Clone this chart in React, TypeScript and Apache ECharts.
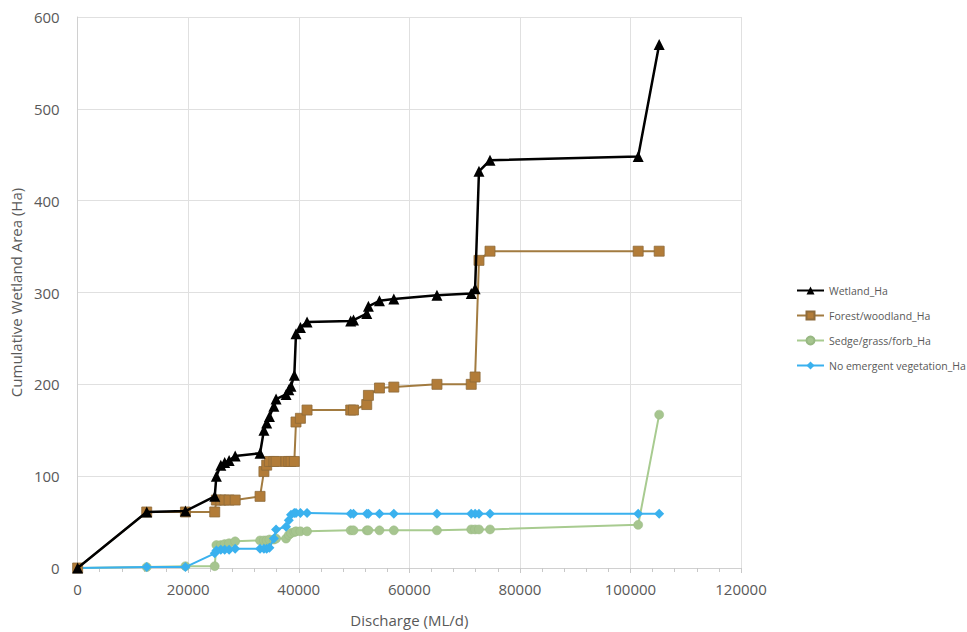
import React, { useEffect, useRef } from "react";
import * as echarts from "echarts";

const discharge = [
  0, 12500, 19500, 24800, 25100, 25900, 26600, 27400, 28500, 33000, 33700, 34200, 34700,
  35500, 35900, 37700, 38200, 38600, 39200, 39500, 40300, 41500, 49400, 49900, 52300,
  52600, 54600, 57200, 65000, 71200, 71900, 72600, 74600, 101400, 105200,
];
const wetland = [
  0, 61, 62, 78, 100, 112, 115, 117, 122, 125, 150, 158, 165, 176, 184, 189, 194, 198,
  210, 255, 262, 268, 269, 270, 277, 285, 291, 293, 297, 299, 304, 432, 444, 448, 570,
];
const forest = [
  0, 61, 61, 61, 74, 74, 74, 74, 74, 78, 105, 112, 116, 116, 116, 116, 116, 116, 116,
  159, 163, 172, 172, 172, 178, 188, 196, 197, 200, 200, 208, 335, 345, 345, 345,
];
const sedge = [
  0, 1, 2, 2, 25, 25, 26, 27, 29, 30, 30, 30, 31, 31, 32, 32, 36, 38, 39, 40, 40, 40, 41,
  41, 41, 41, 41, 41, 41, 42, 42, 42, 42, 47, 167,
];
const noEmergent = [
  0, 1, 1, 16, 19, 20, 20, 20, 21, 21, 21, 21, 22, 32, 42, 45, 52, 58, 60, 60, 60, 60, 59,
  59, 59, 59, 59, 59, 59, 59, 59, 59, 59, 59, 59,
];
const seriesNames = [
  "Wetland_Ha",
  "Forest/woodland_Ha",
  "Sedge/grass/forb_Ha",
  "No emergent vegetation_Ha",
];
const xTicks = { min: 0, max: 120000, interval: 20000 };
const yTicks = { min: 0, max: 600, interval: 100 };

const pair = (ys: number[]) => discharge.map((x, i) => [x, ys[i]]);

export default function App() {
  const ref = useRef<HTMLDivElement>(null);
  useEffect(() => {
    if (!ref.current) return;
    const chart = echarts.init(ref.current, undefined, { renderer: "svg" });
    const font = "'Open Sans', 'Noto Sans', sans-serif";
    const gray = "#595959";
    chart.setOption({
      animation: false,
      backgroundColor: "#ffffff",
      textStyle: { fontFamily: font },
      grid: { left: 77, right: 226, top: 17, bottom: 64, containLabel: false },
      legend: {
        orient: "vertical",
        left: 791,
        top: 280,
        itemWidth: 27,
        itemHeight: 10,
        itemGap: 14,
        textStyle: { fontSize: 10.5, color: gray, fontFamily: font },
        data: seriesNames,
      },
      xAxis: {
        type: "value",
        min: xTicks.min,
        max: xTicks.max,
        interval: xTicks.interval,
        name: "Discharge (ML/d)",
        nameLocation: "middle",
        nameGap: 44,
        nameTextStyle: { fontSize: 15, color: gray, fontFamily: font },
        axisLine: { show: true, lineStyle: { color: "#d0d0d0", width: 1 } },
        axisTick: { show: true, length: 5, lineStyle: { color: "#c8c8c8" } },
        minorTick: { show: true, splitNumber: 5, length: 4, lineStyle: { color: "#c8c8c8" } },
        axisLabel: {
          fontSize: 15,
          color: gray,
          margin: 13,
          fontFamily: font,
          formatter: (v: number) => String(v),
        },
        splitLine: { show: true, lineStyle: { color: "#e0e0e0", width: 1 } },
      },
      yAxis: {
        type: "value",
        min: yTicks.min,
        max: yTicks.max,
        interval: yTicks.interval,
        name: "Cumulative Wetland Area (Ha)",
        nameLocation: "middle",
        nameGap: 51,
        nameTextStyle: { fontSize: 15, color: gray, fontFamily: font },
        axisLine: { show: true, lineStyle: { color: "#d0d0d0", width: 1 } },
        axisTick: { show: false },
        axisLabel: { fontSize: 15, color: gray, margin: 18, fontFamily: font },
        splitLine: { show: true, lineStyle: { color: "#e0e0e0", width: 1 } },
      },
      series: [
        {
          name: seriesNames[3],
          type: "line",
          data: pair(noEmergent),
          symbol: "diamond",
          symbolSize: 10,
          z: 2,
          lineStyle: { color: "#3AB1EE", width: 2 },
          itemStyle: { color: "#3AB1EE" },
        },
        {
          name: seriesNames[2],
          type: "line",
          data: pair(sedge),
          symbol: "circle",
          symbolSize: 9,
          z: 1,
          lineStyle: { color: "#A8CB90", width: 2 },
          itemStyle: { color: "#A6C58F", borderColor: "#98B883", borderWidth: 0.5 },
        },
        {
          name: seriesNames[1],
          type: "line",
          data: pair(forest),
          symbol: "rect",
          symbolSize: 10,
          z: 3,
          lineStyle: { color: "#A27B40", width: 2 },
          itemStyle: { color: "#B27C38", borderColor: "#8E6B3A", borderWidth: 0.8 },
        },
        {
          name: seriesNames[0],
          type: "line",
          data: pair(wetland),
          symbol: "triangle",
          symbolSize: 11,
          z: 4,
          lineStyle: { color: "#000000", width: 2.5 },
          itemStyle: { color: "#000000" },
        },
      ],
    });
    return () => chart.dispose();
  }, []);
  return (
    <div
      ref={ref}
      style={{ position: "absolute", left: 0, top: 0, width: 967, height: 632 }}
    />
  );
}
